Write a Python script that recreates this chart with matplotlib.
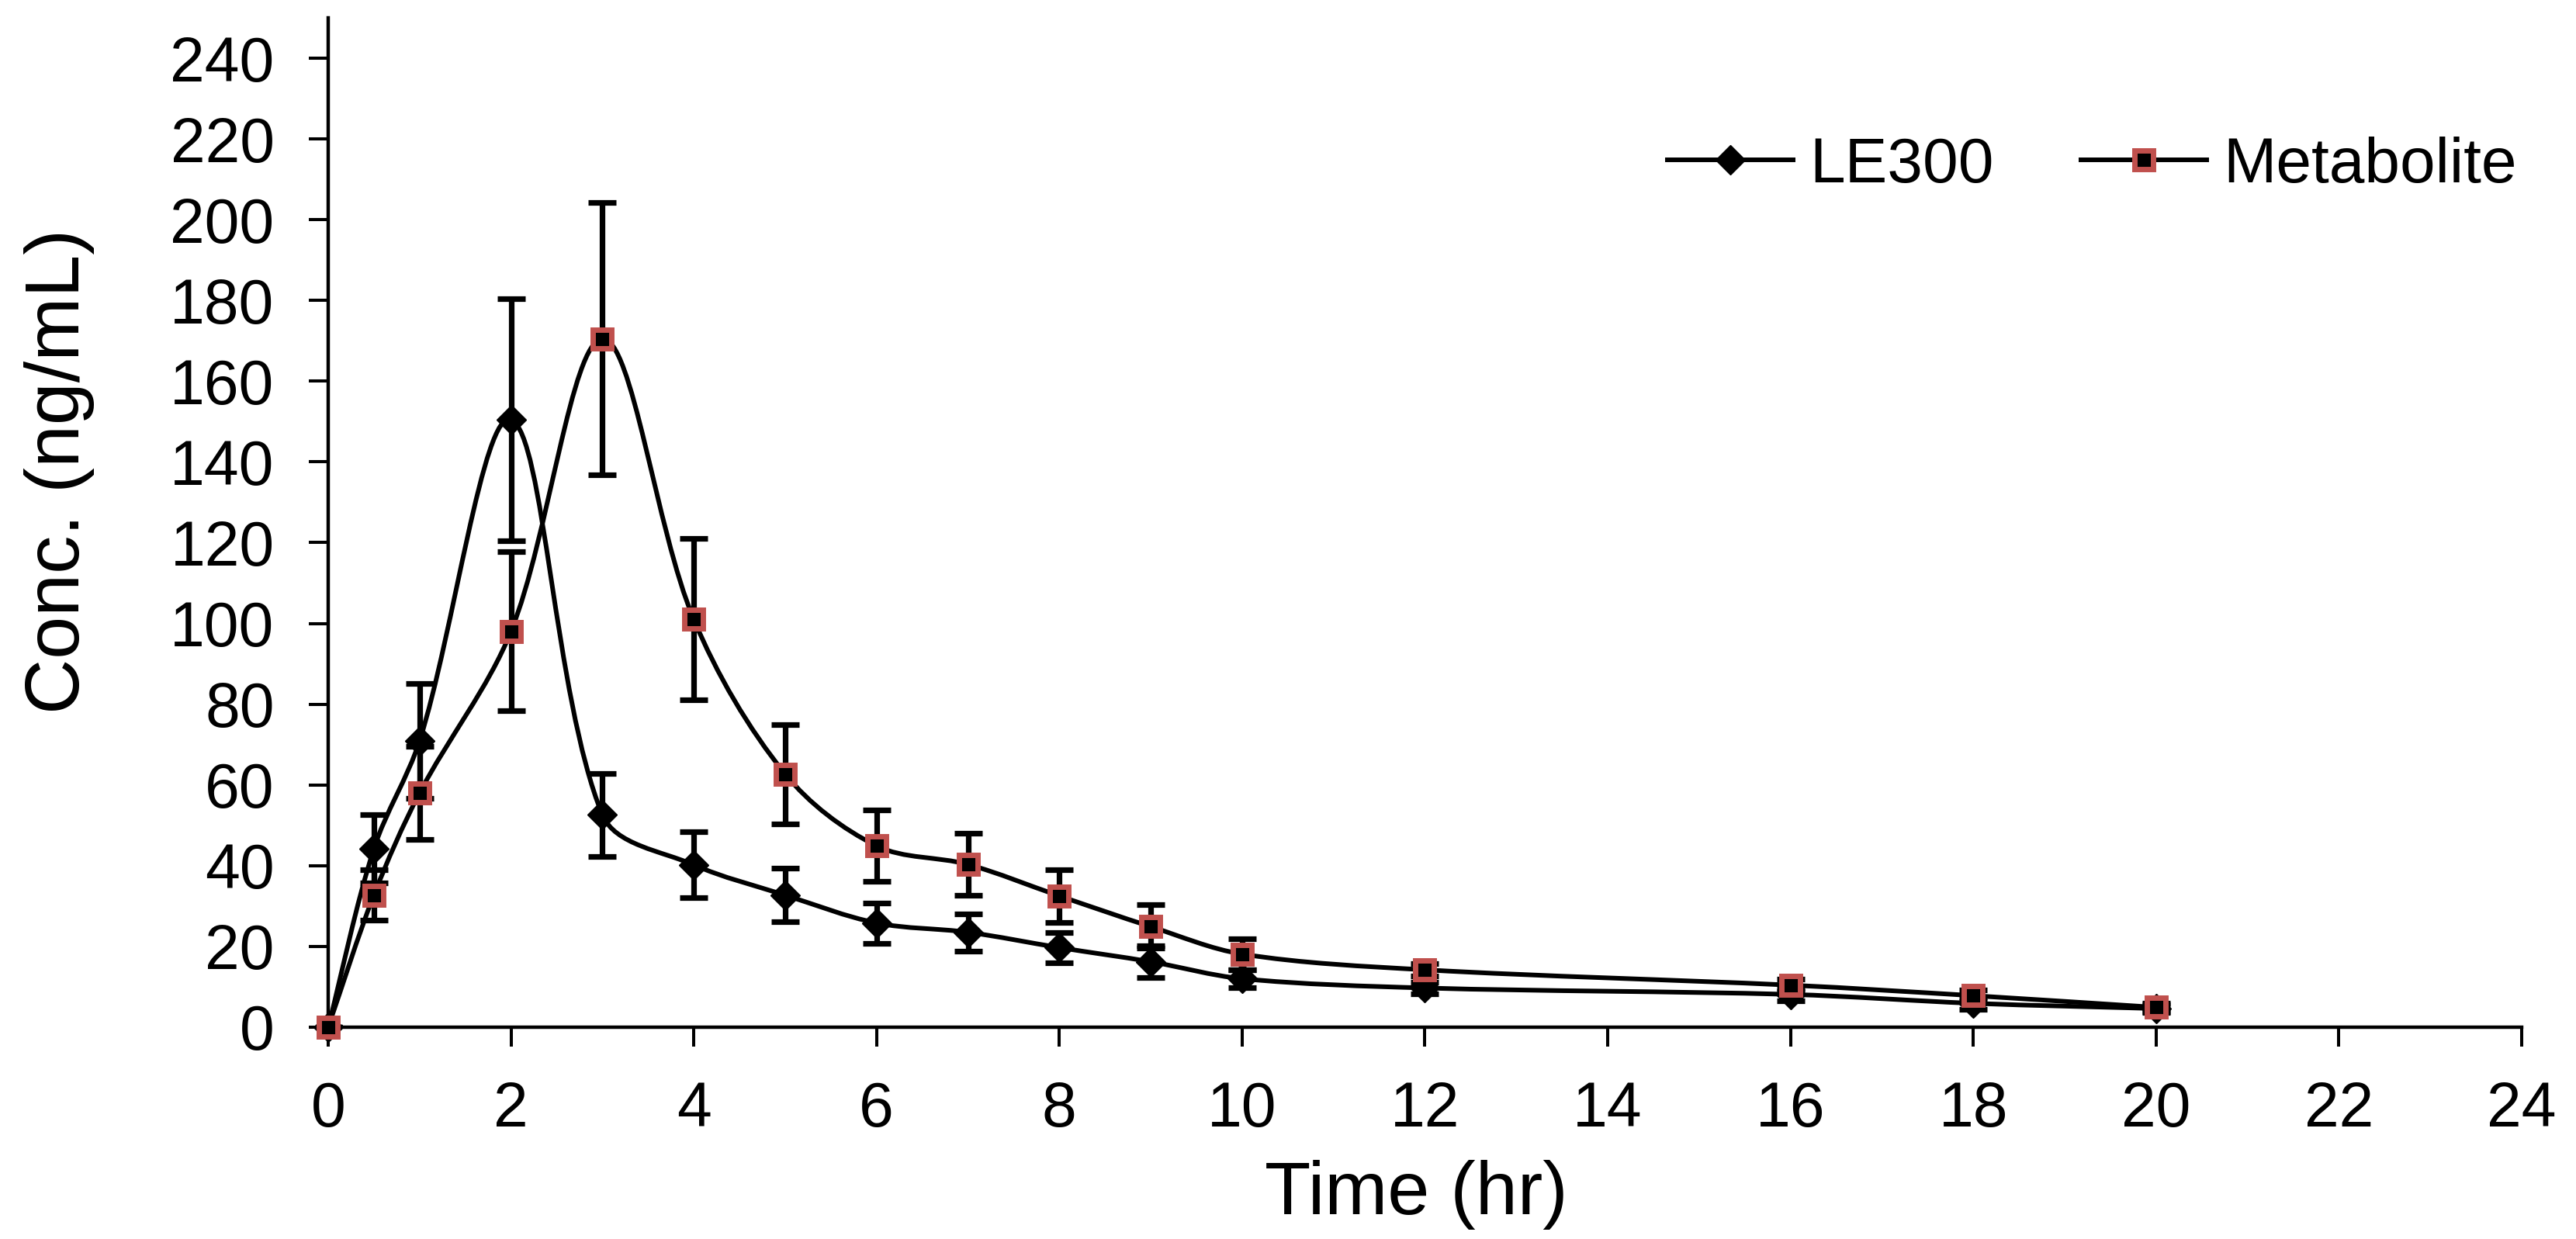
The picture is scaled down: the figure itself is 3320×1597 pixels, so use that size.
import numpy as np
import matplotlib
matplotlib.use("Agg")
import matplotlib.pyplot as plt
from matplotlib.path import Path
from matplotlib.patches import PathPatch
from matplotlib.lines import Line2D

plt.rcParams['font.family'] = ['Liberation Sans', 'DejaVu Sans']

# sampling times (hr)
time = [0, 0.5, 1, 2, 3, 4, 5, 6, 7, 8, 9, 10, 12, 16, 18, 20]

# LE300 mean and SD (ng/mL)
le300 = [0, 44.2, 70.9, 150.5, 52.6, 40.2, 32.7, 25.8, 23.5, 19.7, 16.2, 12.0, 9.7, 8.1, 5.9, 4.6]
le300_sd = [0, 8.5, 14.2, 30.0, 10.3, 8.2, 6.6, 5.0, 4.6, 3.8, 3.9, 2.3, 1.5, 1.5, 1.5, 1.0]

# metabolite mean and SD (ng/mL)
met = [0, 32.7, 58.0, 98.0, 170.5, 101.0, 62.7, 44.9, 40.3, 32.5, 24.9, 18.1, 14.2, 10.4, 7.8, 4.9]
met_sd = [0, 6.2, 11.5, 19.7, 33.7, 20.0, 12.3, 8.8, 7.7, 6.5, 5.4, 3.8, 1.5, 1.5, 1.5, 1.0]

x_ticks = list(range(0, 25, 2))
y_ticks = list(range(0, 241, 20))

RED = '#C0504D'


def smooth_path(x, y, sx=117.8, sy=5.2):
    """ Smoothed line like a spreadsheet chart: cubic Bezier through every point,
    tangents weighted by chord length (measured in screen scale sx, sy) """
    pts = np.column_stack([x, y]).astype(float)
    scr = pts * [sx, sy]
    n = len(pts)

    def dist(a, b):
        return max(np.hypot(*(scr[b] - scr[a])), 1e-9)

    verts = [pts[0]]
    codes = [Path.MOVETO]
    for i in range(n - 1):
        i0, i3 = max(i - 1, 0), min(i + 2, n - 1)
        p0, p1, p2, p3 = pts[i0], pts[i], pts[i + 1], pts[i3]
        d01 = dist(i0, i) if i0 != i else 0.0
        d12 = dist(i, i + 1)
        d23 = dist(i + 1, i3) if i3 != i + 1 else 0.0
        c1 = p1 + (p2 - p0) * d12 / (d01 + d12) / 3
        c2 = p2 - (p3 - p1) * d12 / (d12 + d23) / 3
        verts += [c1, c2, p2]
        codes += [Path.CURVE4] * 3
    return Path(verts, codes)


fig = plt.figure(figsize=(33.2, 15.97), dpi=100)
ax = fig.add_axes([0.1274, 0.1710, 0.8515, 0.8146])

line_w = 4.3
err_w = 5.2

# LE300
ax.add_patch(PathPatch(smooth_path(time, le300), fill=False, edgecolor='black',
                       lw=line_w, zorder=2))
ax.errorbar(time, le300, yerr=le300_sd, fmt='none', ecolor='black',
            elinewidth=err_w, capsize=13, capthick=err_w, zorder=2.5)
ax.plot(time, le300, linestyle='none', marker='D', markersize=19,
        markerfacecolor='black', markeredgecolor='black', markeredgewidth=1,
        zorder=3, clip_on=False)

# Metabolite
ax.add_patch(PathPatch(smooth_path(time, met), fill=False, edgecolor='black',
                       lw=line_w, zorder=4))
ax.errorbar(time, met, yerr=met_sd, fmt='none', ecolor='black',
            elinewidth=err_w, capsize=13, capthick=err_w, zorder=4.5)
ax.plot(time, met, linestyle='none', marker='s', markersize=17,
        markerfacecolor='black', markeredgecolor=RED, markeredgewidth=5,
        zorder=5, clip_on=False)

ax.set_xlim(0, 24)
ax.set_ylim(0, 250)
ax.set_xticks(x_ticks)
ax.set_yticks(y_ticks)

for side in ['top', 'right']:
    ax.spines[side].set_visible(False)
for side in ['left', 'bottom']:
    ax.spines[side].set_linewidth(3.2)

ax.tick_params(axis='both', direction='out', length=18, width=2.9,
               labelsize=58, pad=32, colors='black')

ax.set_xlabel('Time (hr)', fontsize=70, va='center')
ax.xaxis.set_label_coords(0.496, -0.166)
ax.set_ylabel('Conc. (ng/mL)', fontsize=71, va='center')
ax.yaxis.set_label_coords(-0.1224, 0.551)

handles = [
    Line2D([], [], color='black', lw=line_w, marker='D', markersize=19,
           markerfacecolor='black', markeredgecolor='black', markeredgewidth=1),
    Line2D([], [], color='black', lw=line_w, marker='s', markersize=17,
           markerfacecolor='black', markeredgecolor=RED, markeredgewidth=5),
]
fig.legend(handles, ['LE300', 'Metabolite'], loc='center right',
           bbox_to_anchor=(3244 / 3320, 1 - 214 / 1597), ncol=2, frameon=False,
           fontsize=59, handlelength=1.98, handletextpad=0.26, columnspacing=1.37,
           borderpad=0, borderaxespad=0)

fig.savefig('out.png', dpi=100, facecolor='white')
